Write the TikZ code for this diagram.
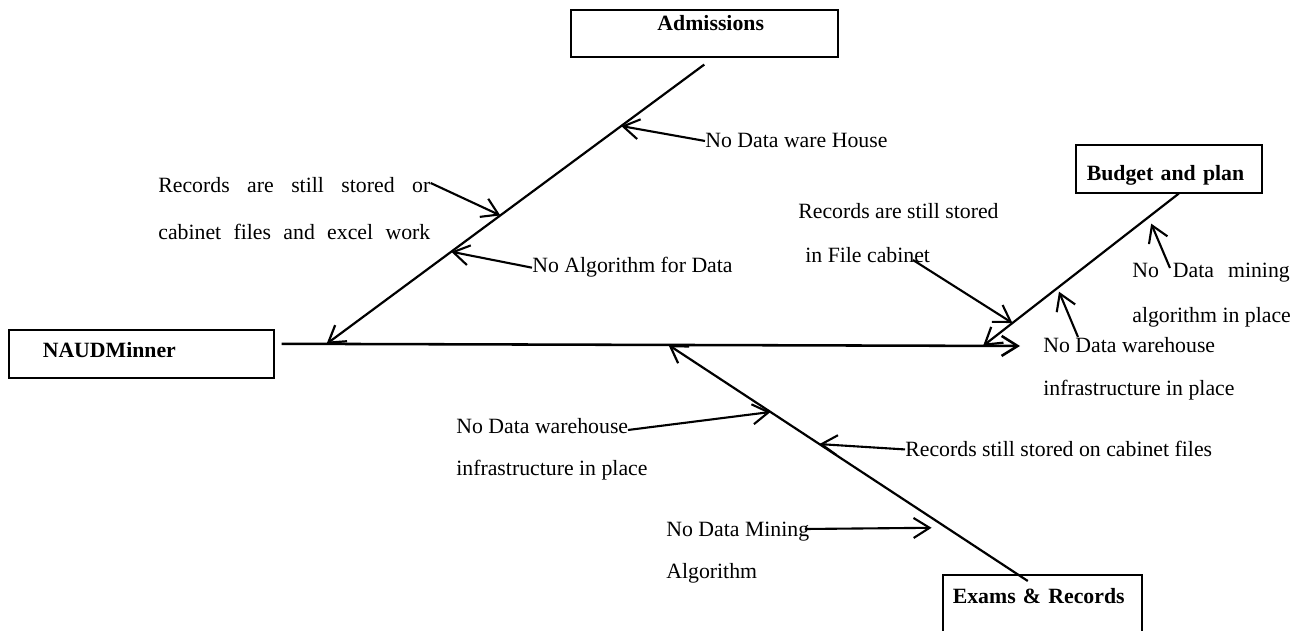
\documentclass[tikz,border=0pt]{standalone}
\usepackage{fontspec}
\setmainfont{Liberation Serif}
\usetikzlibrary{arrows.meta,calc}
\newcommand\lblfont[1]{\fontsize{12.4pt}{#1pt}\selectfont}
\begin{document}
\begin{tikzpicture}[x=0.02cm,y=-0.02cm,
  catbox/.style={draw, line width=0.9pt, inner ysep=0pt, align=left,
    anchor=north west, font=\bfseries\lblfont{15}},
  lbl/.style={inner sep=0pt, align=left, font=\lblfont{15}},
  bone/.style={line width=1.25pt, -{Straight Barb[length=0.32cm,width=0.4cm]}},
  cause/.style={line width=1.2pt, -{Straight Barb[length=0.32cm,width=0.4cm]}},
  spine/.style={line width=1.45pt, -{Straight Barb[length=0.32cm,width=0.4cm]}}]
\useasboundingbox (0,0) rectangle (1309,631);
\clip (0,0) rectangle (1309,631);

% category boxes
\node[catbox, align=center, inner xsep=0pt, text width=5.34cm,
      text height=0.42cm, text depth=0.52cm] (adm) at (570,9)
      {\hspace*{0.26cm}Admissions};
\node[catbox, inner xsep=0.68cm, text width=3.94cm,
      text height=0.56cm, text depth=0.4cm] (naud) at (8,329) {NAUDMinner};
\node[catbox, inner xsep=0.22cm, text width=3.28cm,
      text height=0.72cm, text depth=0.24cm] (bud) at (1075,144) {Budget and plan};
\node[catbox, inner xsep=0.2cm, text width=3.58cm,
      text height=0.58cm, text depth=1.3cm] (ex) at (942,574) {Exams \& Records};

% main spine
\coordinate (spL) at ([shift={(0.14cm,0.2cm)}]naud.east);
\coordinate (spR) at (1020,346);
\draw[spine] (spL) -- (spR);

% bones
\coordinate (A1) at ([yshift=-0.14cm]adm.south);
\coordinate (A2) at ($(spL)!0.061!(spR)$);
\draw[bone] (A1) -- (A2);
\coordinate (B1) at ([xshift=0.2cm]bud.south);
\coordinate (B2) at ($(spL)!0.95!(spR)$);
\draw[bone] (B1) -- (B2);
\coordinate (C1) at ([shift={(-0.29cm,-0.14cm)}]ex.north);
\coordinate (C2) at ($(spL)!0.524!(spR)$);
\draw[bone] (C1) -- (C2);

% causes: Admissions
\node[lbl, anchor=base west] (l1) at (705,148) {No Data ware House};
\node[lbl, anchor=north west, font=\lblfont{26.7}] (l2) at (158,177)
  {\makebox[5.44cm][s]{Records are still stored or}\\
   \makebox[5.44cm][s]{cabinet files and excel work}};
\node[lbl, anchor=base west] (l3) at (532,273) {No Algorithm for Data};
\draw[cause] (l1.west) -- ($(A1)!0.22!(A2)$);
\draw[cause] ([yshift=-0.12cm]l2.north east) -- ($(A1)!0.54!(A2)$);
\draw[cause] (l3.west) -- ($(A1)!0.67!(A2)$);

% causes: Budget and plan
\node[lbl, anchor=north west, font=\lblfont{25}] (l4) at (798,203)
  {Records are still stored\\ \hspace*{0.14cm}in File cabinet};
\node[lbl, anchor=north west, font=\lblfont{25.6}] (l5) at (1132,263)
  {\makebox[3.15cm][s]{No Data mining}\\ algorithm in place};
\node[lbl, anchor=north west, font=\lblfont{24.5}] (l6) at (1043,337)
  {No Data warehouse\\ infrastructure in place};
\draw[cause] ([shift={(2.3cm,-1.14cm)}]l4.north west) -- ($(B1)!0.85!(B2)$);
\draw[cause, shorten >=0.14cm] ([shift={(0.76cm,-0.1cm)}]l5.north west) -- ($(B1)!0.155!(B2)$);
\draw[cause, shorten >=0.08cm] ([shift={(0.7cm,0cm)}]l6.north west) -- ($(B1)!0.62!(B2)$);

% causes: Exams & Records
\node[lbl, anchor=north west, font=\lblfont{23.9}] (l7) at (456,418)
  {No Data warehouse\\ infrastructure in place};
\node[lbl, anchor=base west] (l8) at (905,457) {Records still stored on cabinet files};
\node[lbl, anchor=north west, font=\lblfont{23.9}] (l9) at (666,522)
  {No Data Mining\\ Algorithm};
\draw[cause] ([shift={(3.44cm,-0.24cm)}]l7.north west) -- ($(C1)!0.716!(C2)$);
\draw[cause] (l8.west) -- ($(C1)!0.58!(C2)$);
\draw[cause, shorten >=0.3cm] ([shift={(2.78cm,-0.14cm)}]l9.north west) -- ($(C1)!0.226!(C2)$);
\end{tikzpicture}
\end{document}
